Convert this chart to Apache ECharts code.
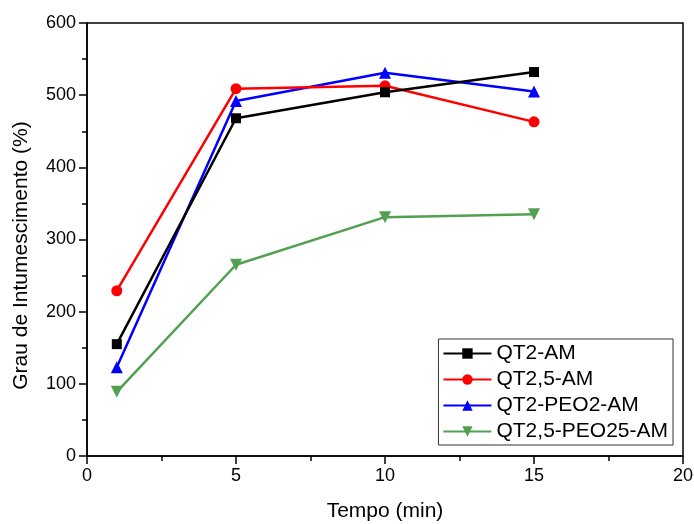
<!DOCTYPE html>
<html>
<head>
<meta charset="utf-8">
<script src="https://cdn.jsdelivr.net/npm/echarts@6/dist/echarts.min.js"></script>
<style>
  html, body { margin: 0; padding: 0; background: #fff; }
  #chart { width: 694px; height: 524px; }
</style>
</head>
<body>
<div id="chart"></div>
<script>
// tempo (min)
var TEMPO = [1, 5, 10, 15];
var SERIES_NAMES = ['QT2-AM', 'QT2,5-AM', 'QT2-PEO2-AM', 'QT2,5-PEO25-AM'];
var QT2_AM = [155, 468, 504, 532];
var QT25_AM = [229, 509, 513, 463];
var QT2_PEO2_AM = [123, 492, 531, 505];
var QT25_PEO25_AM = [89, 265, 331, 335];

var COLORS = ['#000000', '#ff0000', '#0000ff', '#52a052'];
var SYMBOLS = ['rect', 'circle', 'triangle', 'path://M0,0 L10,0 L5,9 Z'];
var SYMBOL_SIZES = [10, 11, 12, 12];

function pairs(xs, ys) {
  return xs.map(function(x, i) { return [x, ys[i]]; });
}

var values = [QT2_AM, QT25_AM, QT2_PEO2_AM, QT25_PEO25_AM];
var FONT = 'Liberation Sans, Arial, sans-serif';

var series = SERIES_NAMES.map(function(name, i) {
  return {
    name: name,
    type: 'line',
    data: pairs(TEMPO, values[i]),
    symbol: SYMBOLS[i],
    symbolSize: SYMBOL_SIZES[i],
    lineStyle: { color: COLORS[i], width: 2.5 },
    itemStyle: { color: COLORS[i] },
    animation: false,
    z: 10 - i
  };
});

var chart = echarts.init(document.getElementById('chart'));
chart.setOption({
  animation: false,
  grid: {
    left: 87, top: 23, right: 11, bottom: 68,
    outerBoundsMode: 'none',
    show: true, borderColor: '#000', borderWidth: 1.5
  },
  legend: {
    right: 21, top: 339,
    orient: 'vertical',
    data: SERIES_NAMES,
    itemWidth: 48,
    itemHeight: 13,
    itemGap: 5,
    borderColor: '#333',
    borderWidth: 1,
    padding: [4, 5, 3, 4],
    backgroundColor: '#fff',
    textStyle: { fontFamily: FONT, fontSize: 21, color: '#000' }
  },
  xAxis: {
    type: 'value',
    min: 0, max: 20, interval: 5,
    name: 'Tempo (min)',
    nameLocation: 'middle',
    nameGap: 45,
    nameTextStyle: { fontFamily: FONT, fontSize: 21, color: '#000' },
    axisLine: { lineStyle: { color: '#000', width: 1.5 } },
    axisTick: { show: true, inside: false, length: 8, lineStyle: { color: '#000', width: 1.5 } },
    minorTick: { show: true, splitNumber: 2, length: 5, lineStyle: { color: '#000', width: 1.5 } },
    axisLabel: { fontFamily: FONT, fontSize: 18, color: '#000', margin: 11 },
    splitLine: { show: false }
  },
  yAxis: {
    type: 'value',
    min: 0, max: 600, interval: 100,
    name: 'Grau de Intumescimento (%)',
    nameLocation: 'middle',
    nameGap: 55,
    nameTextStyle: { fontFamily: FONT, fontSize: 21, color: '#000', padding: [0, 32, 0, 0] },
    axisLine: { show: true, lineStyle: { color: '#000', width: 1.5 } },
    axisTick: { show: true, inside: false, length: 8, lineStyle: { color: '#000', width: 1.5 } },
    minorTick: { show: true, splitNumber: 2, length: 5, lineStyle: { color: '#000', width: 1.5 } },
    axisLabel: { fontFamily: FONT, fontSize: 18, color: '#000', margin: 11 },
    splitLine: { show: false }
  },
  series: series
});
</script>
</body>
</html>
